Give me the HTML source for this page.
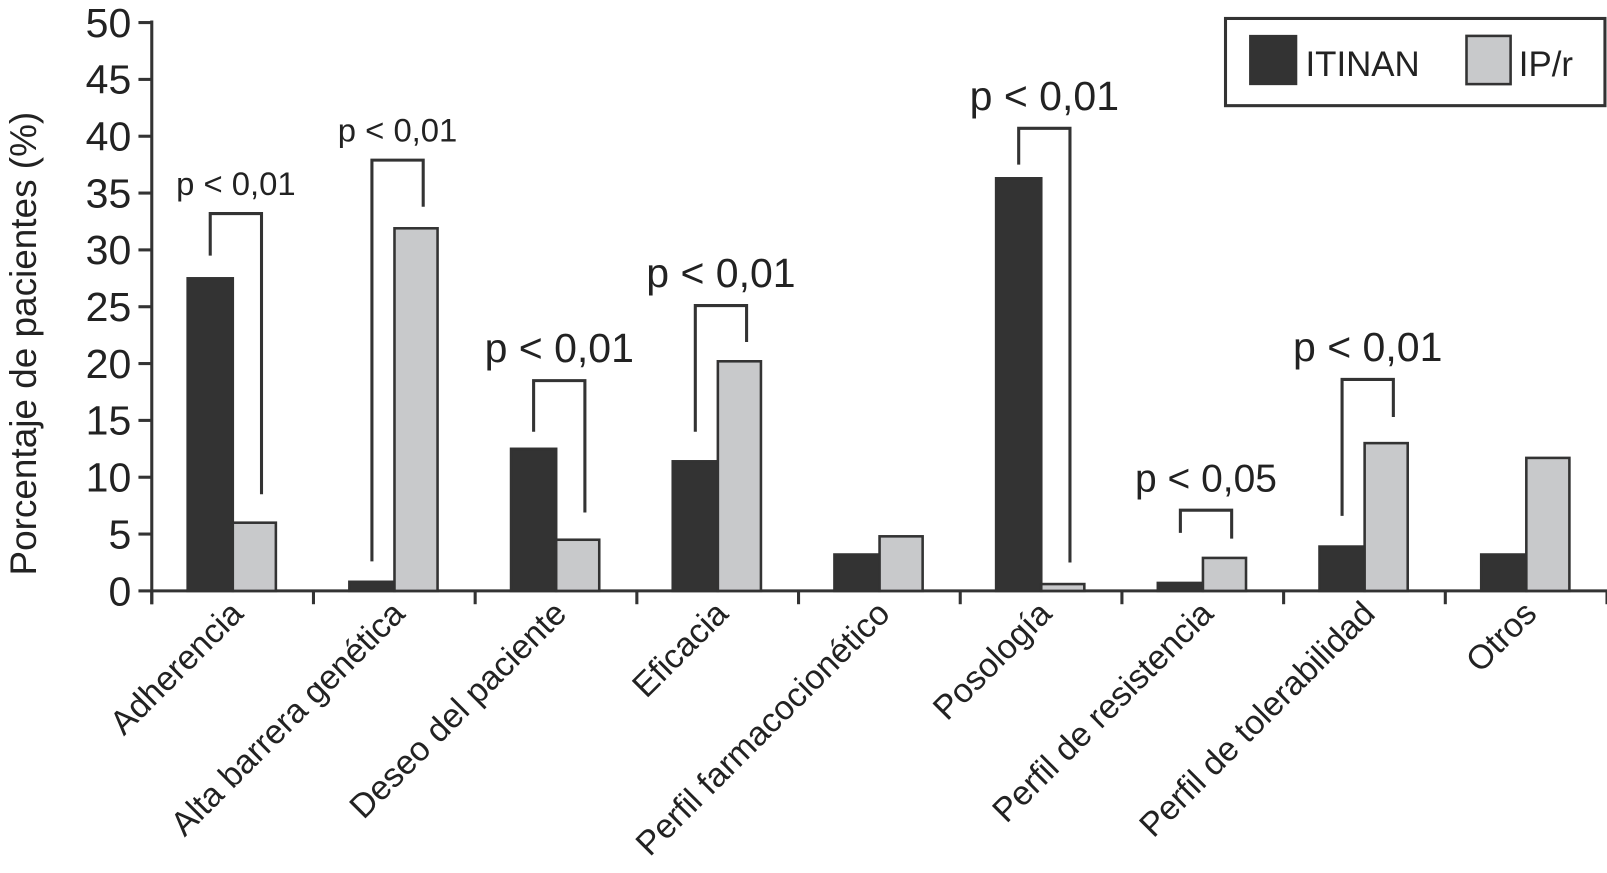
<!DOCTYPE html>
<html><head><meta charset="utf-8"><style>
html,body{margin:0;padding:0;background:#fff;}
svg{display:block;font-family:"Liberation Sans",Arial,sans-serif;}
</style></head><body>
<svg id="chart" width="1607" height="873" viewBox="0 0 1567 851" preserveAspectRatio="none" xmlns="http://www.w3.org/2000/svg"></svg>
<script>
const categories=["Adherencia","Alta barrera genética","Deseo del paciente","Eficacia","Perfil farmacocionético","Posología","Perfil de resistencia","Perfil de tolerabilidad","Otros"];
const itinan=[27.5,0.8,12.5,11.4,3.2,36.3,0.7,3.9,3.2];
const ipr=[6.0,31.9,4.5,20.2,4.8,0.6,2.9,13.0,11.7];
const yTicks=[0,5,10,15,20,25,30,35,40,45,50];
const sigCat=[0,1,2,3,5,6,7];
const sigLabel=["p < 0,01","p < 0,01","p < 0,01","p < 0,01","p < 0,01","p < 0,05","p < 0,01"];
const sigTop=[33.2,37.9,18.5,25.1,40.7,7.1,18.6];
const sigLeft=[29.5,2.6,14.0,14.0,37.5,5.1,6.6];
const sigRight=[8.5,33.8,6.9,21.9,2.5,4.6,15.3];
const sigSize=[32,32,40,40,40,38,40];

const svg=document.getElementById('chart');
const NS='http://www.w3.org/2000/svg';
const X0=148,X1=1567,Y0=576,Y50=22;
const catW=(X1-X0)/categories.length;
const y=v=>Y0-(Y0-Y50)*v/50;
const xCat=i=>X0+i*catW;
const BW=44,OFF=35;
function mk(tag,attrs,parent){const e=document.createElementNS(NS,tag);for(const k in attrs)e.setAttribute(k,attrs[k]);(parent||svg).appendChild(e);return e;}

const yAxis=mk('g',{});


mk('line',{x1:X0,y1:Y50-2,x2:X0,y2:Y0+13,stroke:'#333','stroke-width':3},yAxis);
yTicks.forEach(t=>{
  mk('line',{x1:X0-13,y1:y(t),x2:X0,y2:y(t),stroke:'#333','stroke-width':3},yAxis);
  const tx=mk('text',{x:X0-20,y:y(t)+14,'font-size':40,'text-anchor':'end',fill:'#222'},yAxis);
  tx.textContent=t;
  
  
});
const yt=mk('text',{x:0,y:0,'font-size':36,'text-anchor':'middle',fill:'#222',transform:'translate(35,335) rotate(-90)'});
yt.textContent='Porcentaje de pacientes (%)';



const xAxis=mk('g',{});


mk('line',{x1:X0,y1:Y0,x2:X1,y2:Y0,stroke:'#333','stroke-width':3},xAxis);
for(let i=0;i<=categories.length;i++){
  mk('line',{x1:xCat(i),y1:Y0,x2:xCat(i),y2:Y0+13,stroke:'#333','stroke-width':3},xAxis);
}
categories.forEach((c,i)=>{
  const cx=xCat(i)+catW/2+12, cy=Y0+24;
  const tx=mk('text',{x:cx,y:cy,'font-size':33,'text-anchor':'end',fill:'#222',transform:`rotate(-45 ${cx} ${cy})`},xAxis);
  tx.textContent=c;
  
  
});

categories.forEach((c,i)=>{
  const bx=xCat(i)+OFF;
  const b1=mk('rect',{x:bx,y:y(itinan[i]),width:BW,height:Y0-y(itinan[i]),fill:'#333',stroke:'#333','stroke-width':2.5});
  
  
  const b2=mk('rect',{x:bx+BW,y:y(ipr[i]),width:BW-2,height:Y0-y(ipr[i]),fill:'#c8c9cb',stroke:'#333','stroke-width':2.5});
  
  
});

sigCat.forEach((ci,k)=>{
  const lx=xCat(ci)+OFF+BW/2, rx=xCat(ci)+OFF+BW*1.5+6;
  const g=mk('g',{});
  
  
  mk('polyline',{points:`${lx},${y(sigLeft[k])} ${lx},${y(sigTop[k])} ${rx},${y(sigTop[k])} ${rx},${y(sigRight[k])}`,fill:'none',stroke:'#333','stroke-width':3},g);
  const tx=mk('text',{x:(lx+rx)/2,y:y(sigTop[k])-18,'font-size':sigSize[k],'text-anchor':'middle',fill:'#222'},g);
  tx.textContent=sigLabel[k];
  
  
});

const lg=mk('g',{});


mk('rect',{x:1195,y:18,width:370,height:85,fill:'#fff',stroke:'#333','stroke-width':3},lg);
const e1=mk('g',{},lg);


mk('rect',{x:1218,y:34,width:47,height:49,fill:'#333'},e1);
const t1=mk('text',{x:1273,y:74,'font-size':34,fill:'#222'},e1);t1.textContent='ITINAN';
const e2=mk('g',{},lg);


mk('rect',{x:1430,y:35,width:43,height:47,fill:'#c8c9cb',stroke:'#333','stroke-width':2.5},e2);
const t2=mk('text',{x:1481,y:74,'font-size':34,fill:'#222'},e2);t2.textContent='IP/r';
</script>
</body></html>
